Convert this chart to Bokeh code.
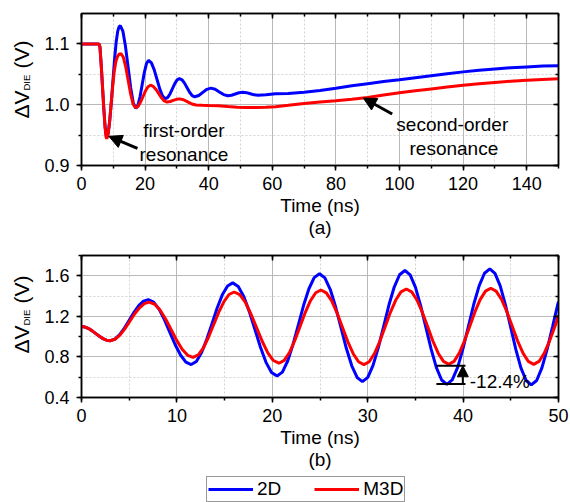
from math import pi

from bokeh.embed import file_html
from bokeh.layouts import column, row
from bokeh.models import (Arrow, CustomJSTickFormatter, Label, Legend, LegendItem,
                          LinearAxis, NormalHead, NumeralTickFormatter, Range1d,
                          SingleIntervalTicker)
from bokeh.plotting import figure
from bokeh.resources import INLINE

FONT = "Liberation Sans"
BLUE = "#0000ff"
RED = "#ff0000"

# ---------------- (a) long time window, 0-150 ns ----------------
t_a_2d = [0, 5.5, 5.8, 6.2, 6.6, 7.0, 7.4, 7.7, 8.0, 8.4, 8.9, 9.4, 9.9, 10.4, 10.9,
          11.4, 11.8, 12.2, 13.02, 13.83, 14.65, 15.47, 16.28, 17.1, 17.77, 18.43,
          19.1, 19.77, 20.43, 21.1, 21.98, 22.87, 23.75, 24.63, 25.52, 26.4, 27.13,
          27.87, 28.6, 29.33, 30.07, 30.8, 31.6, 32.4, 33.2, 34.0, 34.8, 35.6, 36.88,
          38.15, 39.43, 40.7, 42.03, 43.35, 44.68, 46.0, 47.18, 48.35, 49.53, 50.7,
          51.9, 53.1, 54.3, 55.5, 58, 61, 65, 70, 75, 80, 85, 90, 95, 100, 105, 110,
          115, 120, 125, 130, 135, 140, 145, 150]
v_a_2d = [1.1, 1.1, 1.095, 1.065, 1.03, 0.995, 0.965, 0.951, 0.947, 0.953, 0.975,
          1.005, 1.04, 1.075, 1.103, 1.121, 1.128, 1.130, 1.1209, 1.096, 1.062, 1.028,
          1.0031, 0.994, 0.9993, 1.0138, 1.0335, 1.0533, 1.0677, 1.073, 1.0688, 1.0572,
          1.0414, 1.0256, 1.014, 1.0098, 1.012, 1.0181, 1.0264, 1.0347, 1.0408, 1.043,
          1.041, 1.0355, 1.028, 1.0205, 1.015, 1.013, 1.0151, 1.0202, 1.0253, 1.0273,
          1.0254, 1.021, 1.0166, 1.0148, 1.0156, 1.0176, 1.0196, 1.0204, 1.0198, 1.018,
          1.0162, 1.0155, 1.0165, 1.0182, 1.0185, 1.0205, 1.0235, 1.027, 1.031, 1.0345,
          1.038, 1.041, 1.0445, 1.0478, 1.051, 1.054, 1.0567, 1.0588, 1.0607, 1.0622,
          1.0635, 1.0642]

t_a_m3d = [0, 5.5, 5.8, 6.2, 6.6, 7.0, 7.4, 7.7, 7.95, 8.3, 8.8, 9.3, 9.8, 10.3, 10.8,
           11.3, 11.85, 12.4, 13.17, 13.93, 14.7, 15.47, 16.23, 17.0, 17.78, 18.57,
           19.35, 20.13, 20.92, 21.7, 22.57, 23.43, 24.3, 25.17, 26.03, 26.9, 27.88,
           28.85, 29.83, 30.8, 32.1, 33.4, 34.7, 36.0, 38, 40, 43, 46, 49, 52, 55, 58,
           61, 65, 70, 75, 80, 85, 90, 95, 100, 105, 110, 115, 120, 125, 130, 135, 140,
           145, 150]
v_a_m3d = [1.1, 1.1, 1.095, 1.065, 1.03, 0.995, 0.963, 0.947, 0.944, 0.950, 0.970,
           1.0, 1.03, 1.055, 1.071, 1.079, 1.083, 1.084, 1.078, 1.0618, 1.0395, 1.0173,
           1.001, 0.995, 0.997, 1.0043, 1.0135, 1.0228, 1.0295, 1.032, 1.030, 1.0251,
           1.0182, 1.0113, 1.0062, 1.0044, 1.0052, 1.007, 1.0088, 1.0096, 1.0081,
           1.0046, 1.0011, 0.9996, 0.999, 0.9985, 0.9983, 0.997, 0.996, 0.9955, 0.9953,
           0.9957, 0.9968, 0.999, 1.0018, 1.0043, 1.0066, 1.009, 1.012, 1.0158, 1.0195,
           1.023, 1.026, 1.029, 1.032, 1.0345, 1.0366, 1.0385, 1.0401, 1.0415, 1.0426]

# ---------------- (b) resonant excitation, 0-50 ns ----------------
t_b_2d = [0, 0.375, 0.75, 1.125, 1.5, 1.875, 2.25, 2.625, 3.0,
          3.5, 4.0, 4.5, 5.0, 5.5, 6.0, 6.5, 7.0,
          7.56, 8.13, 8.69, 9.25, 9.81, 10.38, 10.94, 11.5,
          12.04, 12.59, 13.13, 13.68, 14.22, 14.76, 15.31, 15.85,
          16.43, 17.01, 17.59, 18.18, 18.76, 19.34, 19.92, 20.5,
          21.06, 21.61, 22.17, 22.73, 23.28, 23.84, 24.39, 24.95,
          25.51, 26.08, 26.64, 27.2, 27.76, 28.33, 28.89, 29.45,
          30.01, 30.56, 31.12, 31.68, 32.23, 32.79, 33.34, 33.9,
          34.45, 35.0, 35.55, 36.1, 36.65, 37.2, 37.75, 38.3,
          38.86, 39.43, 39.99, 40.55, 41.11, 41.68, 42.24, 42.8,
          43.34, 43.89, 44.43, 44.98, 45.52, 46.06, 46.61, 47.15,
          47.71, 48.26, 48.82, 49.38, 49.93, 50.0]
v_b_2d = [1.100, 1.0947, 1.0795, 1.0568, 1.030, 1.0032, 0.9805, 0.9653, 0.960,
          0.9754, 1.0193, 1.0849, 1.1625, 1.2401, 1.3057, 1.3496, 1.365,
          1.3407, 1.2712, 1.1676, 1.045, 0.9224, 0.8188, 0.7493, 0.725,
          0.7556, 0.8429, 0.9733, 1.1275, 1.2817, 1.4121, 1.4994, 1.53,
          1.4951, 1.3955, 1.2468, 1.071, 0.8952, 0.7465, 0.6469, 0.612,
          0.6503, 0.7597, 0.923, 1.116, 1.309, 1.4723, 1.5817, 1.62,
          1.5796, 1.4643, 1.2921, 1.0885, 0.8849, 0.7127, 0.5974, 0.557,
          0.5986, 0.7174, 0.8948, 1.1045, 1.3142, 1.4916, 1.6104, 1.652,
          1.6094, 1.4876, 1.3059, 1.091, 0.8761, 0.6944, 0.5726, 0.530,
          0.5732, 0.6967, 0.8811, 1.099, 1.3169, 1.5013, 1.6248, 1.668,
          1.6245, 1.5004, 1.3151, 1.096, 0.8769, 0.6916, 0.5675, 0.524,
          0.5678, 0.6928, 0.8794, 1.10, 1.3206, 1.345]

t_b_m3d = [0, 0.375, 0.75, 1.125, 1.5, 1.875, 2.25, 2.625, 3.0,
           3.51, 4.03, 4.54, 5.05, 5.56, 6.08, 6.59, 7.1,
           7.68, 8.25, 8.83, 9.4, 9.98, 10.55, 11.13, 11.7,
           12.24, 12.78, 13.31, 13.85, 14.39, 14.93, 15.46, 16.0,
           16.59, 17.18, 17.76, 18.35, 18.94, 19.53, 20.11, 20.7,
           21.25, 21.8, 22.35, 22.9, 23.45, 24.0, 24.55, 25.1,
           25.66, 26.23, 26.79, 27.35, 27.91, 28.48, 29.04, 29.6,
           30.16, 30.71, 31.27, 31.83, 32.38, 32.94, 33.49, 34.05,
           34.61, 35.16, 35.72, 36.28, 36.83, 37.39, 37.94, 38.5,
           39.05, 39.6, 40.15, 40.7, 41.25, 41.8, 42.35, 42.9,
           43.46, 44.03, 44.59, 45.15, 45.71, 46.28, 46.84, 47.4,
           47.96, 48.51, 49.07, 49.63, 50.0]
v_b_m3d = [1.100, 1.0947, 1.0795, 1.0568, 1.030, 1.0032, 0.9805, 0.9653, 0.960,
           0.9744, 1.0157, 1.0772, 1.15, 1.2228, 1.2843, 1.3256, 1.34,
           1.3193, 1.2602, 1.1719, 1.0675, 0.9631, 0.8748, 0.8157, 0.795,
           0.8195, 0.8895, 0.994, 1.1175, 1.241, 1.3455, 1.4155, 1.44,
           1.4133, 1.3372, 1.2234, 1.089, 0.9546, 0.8408, 0.7647, 0.738,
           0.7654, 0.8438, 0.9607, 1.099, 1.2373, 1.3542, 1.4326, 1.46,
           1.432, 1.3522, 1.2329, 1.092, 0.9511, 0.8318, 0.752, 0.724,
           0.7523, 0.8333, 0.9541, 1.097, 1.2399, 1.3607, 1.4417, 1.47,
           1.4418, 1.3613, 1.2411, 1.099, 0.9569, 0.8367, 0.7562, 0.728,
           0.7565, 0.8377, 0.9591, 1.1025, 1.2459, 1.3673, 1.4485, 1.477,
           1.4485, 1.3671, 1.2456, 1.102, 0.9584, 0.8369, 0.7555, 0.727,
           0.7555, 0.837, 0.9587, 1.1025, 1.21]

# droop comparison bracket in (b): M3D trough vs 2D trough near 38 ns
bracket_x = [37.2, 40.25]
bracket_levels = [0.713, 0.532]
droop_text = "-12.4%"

series_names = ["2D", "M3D"]

BLANK = CustomJSTickFormatter(code="return ''")


def style_axes(p, xtick, ytick, panel_tag):
    xa, ya = p.below[0], p.left[0]
    p.outline_line_color = "black"
    p.outline_line_width = 1.5
    for ax in (xa, ya):
        ax.axis_line_width = 1.5
        ax.major_tick_line_width = 1.5
        ax.minor_tick_line_width = 1.5
        ax.major_tick_out = 5
        ax.major_tick_in = 0
        ax.minor_tick_out = 3
        ax.minor_tick_in = 0
        ax.major_label_text_font = FONT
        ax.major_label_text_font_size = "18px"
        ax.major_label_text_color = "black"
        ax.axis_label_text_font = FONT
        ax.axis_label_text_font_size = "19px"
        ax.axis_label_text_font_style = "normal"
        ax.axis_label_text_color = "black"
    ya.formatter = NumeralTickFormatter(format="0.0")
    xa.ticker = xtick
    ya.ticker = ytick
    xa.major_label_standoff = 6
    ya.major_label_standoff = 7
    xa.axis_label = "Time (ns)"
    xa.axis_label_standoff = 2
    p.xgrid.ticker = xtick
    p.ygrid.ticker = ytick
    for g in (p.xgrid[0], p.ygrid[0]):
        g.grid_line_color = "#b8b8b8"
        g.grid_line_width = 1
        g.minor_grid_line_color = "#d2d2d2"
        g.minor_grid_line_dash = "2 2"
        g.minor_grid_line_width = 1
    # panel caption "(a)" / "(b)" under the time axis title
    tag = LinearAxis(ticker=xtick, formatter=BLANK, axis_line_color=None,
                     major_tick_line_color=None, minor_tick_line_color=None,
                     major_tick_in=0, major_tick_out=0, minor_tick_in=0, minor_tick_out=0,
                     major_label_standoff=0, axis_label=panel_tag, axis_label_standoff=-2,
                     axis_label_text_font=FONT, axis_label_text_font_size="19px",
                     axis_label_text_font_style="normal", axis_label_text_color="black")
    p.add_layout(tag, "below")
    # mirrored tick marks on the top and right edges
    top = LinearAxis(ticker=xtick, formatter=BLANK, major_label_standoff=0,
                     major_tick_in=5, major_tick_out=0, minor_tick_in=3, minor_tick_out=0,
                     axis_line_width=1.5, major_tick_line_width=1.5, minor_tick_line_width=1.5)
    right = LinearAxis(ticker=ytick, formatter=BLANK, major_label_standoff=0,
                       major_tick_in=5, major_tick_out=0, minor_tick_in=3, minor_tick_out=0,
                       axis_line_width=1.5, major_tick_line_width=1.5, minor_tick_line_width=1.5)
    p.add_layout(top, "above")
    p.add_layout(right, "right")


def ylabel_strip(height, y0):
    """Narrow strip carrying the rotated ΔV_DIE (V) title; its frame lines up with the plot's."""
    s = figure(width=35, height=height, x_range=Range1d(0, 35), y_range=Range1d(0, 1),
               x_axis_type=None, y_axis_type=None, min_border=0, outline_line_color=None,
               toolbar_location=None, output_backend="svg")
    common = dict(angle=pi / 2, text_font=FONT, text_align="left", text_baseline="middle",
                  text_color="black", x_units="screen", y_units="screen")
    s.add_layout(Label(x=21, y=y0, text="ΔV", text_font_size="21px", **common))
    s.add_layout(Label(x=25.5, y=y0 + 28, text="DIE", text_font_size="9.5px", **common))
    s.add_layout(Label(x=21, y=y0 + 50, text="(V)", text_font_size="21px", **common))
    return s


def add_text(p, x, y, text, align="center", size="19px"):
    p.add_layout(Label(x=x, y=y, text=text, text_font=FONT, text_font_size=size,
                       text_align=align, text_baseline="alphabetic", text_color="black"))


# ---------------- panel (a) ----------------
pa = figure(width=535, height=240, x_range=Range1d(0, 150), y_range=Range1d(0.9, 1.15),
            output_backend="svg", toolbar_location=None,
            min_border_left=46, min_border_right=12, min_border_top=13, min_border_bottom=75)
style_axes(pa, SingleIntervalTicker(interval=20, num_minor_ticks=2),
           SingleIntervalTicker(interval=0.1, num_minor_ticks=2), "(a)")
pa.line(t_a_2d, v_a_2d, line_color=BLUE, line_width=3)
pa.line(t_a_m3d, v_a_m3d, line_color=RED, line_width=3)

add_text(pa, 32.2, 0.9574, "first-order")
add_text(pa, 32.2, 0.918, "resonance")
pa.add_layout(Arrow(end=NormalHead(size=13, fill_color="black", line_color="black"),
                    x_start=17.6, y_start=0.928, x_end=8.6, y_end=0.948,
                    line_color="black", line_width=3))
add_text(pa, 116.6, 0.9672, "second-order")
add_text(pa, 117.1, 0.9274, "resonance")
pa.add_layout(Arrow(end=NormalHead(size=13, fill_color="black", line_color="black"),
                    x_start=97.7, y_start=0.9848, x_end=88.6, y_end=1.011,
                    line_color="black", line_width=3))

# ---------------- panel (b) ----------------
pb = figure(width=535, height=234, x_range=Range1d(0, 50), y_range=Range1d(0.4, 1.8),
            output_backend="svg", toolbar_location=None,
            min_border_left=46, min_border_right=12, min_border_top=15, min_border_bottom=77)
style_axes(pb, SingleIntervalTicker(interval=10, num_minor_ticks=2),
           SingleIntervalTicker(interval=0.4, num_minor_ticks=2), "(b)")
pb.line(t_b_2d, v_b_2d, line_color=BLUE, line_width=3)
pb.line(t_b_m3d, v_b_m3d, line_color=RED, line_width=3)

pb.segment(x0=[bracket_x[0]] * 2, y0=bracket_levels, x1=[bracket_x[1]] * 2, y1=bracket_levels,
           line_color="black", line_width=2)
pb.add_layout(Arrow(end=NormalHead(size=11, fill_color="black", line_color="black"),
                    x_start=39.97, y_start=bracket_levels[1], x_end=39.97, y_end=bracket_levels[0],
                    line_color="black", line_width=2))
add_text(pb, 40.7, 0.558, droop_text, align="left")

# ---------------- shared legend strip ----------------
lf = figure(width=570, height=28, x_range=Range1d(0, 1), y_range=Range1d(0, 1),
            x_axis_type=None, y_axis_type=None, min_border=0, outline_line_color=None,
            toolbar_location=None, output_backend="svg")
# key-only renderers: a single undefined point, so nothing is drawn in the strip itself
key_2d = lf.line(x=[0.5], y=[float("nan")], line_color=BLUE, line_width=3)
key_m3d = lf.line(x=[0.5], y=[float("nan")], line_color=RED, line_width=3)
legend = Legend(items=[LegendItem(label=series_names[0], renderers=[key_2d]),
                       LegendItem(label=series_names[1], renderers=[key_m3d])],
                orientation="horizontal", location=(206, 0),
                border_line_color="#333333", border_line_width=1,
                background_fill_color="white", background_fill_alpha=1,
                label_text_font=FONT, label_text_font_size="19px", label_text_color="black",
                glyph_width=45, glyph_height=18, label_height=18,
                label_standoff=4, spacing=33, padding=1, margin=0)
lf.add_layout(legend)

layout = column(row(ylabel_strip(240, 47), pa),
                row(ylabel_strip(234, 44), pb),
                lf)

with open("out.html", "w") as f:
    f.write(file_html(layout, INLINE))
